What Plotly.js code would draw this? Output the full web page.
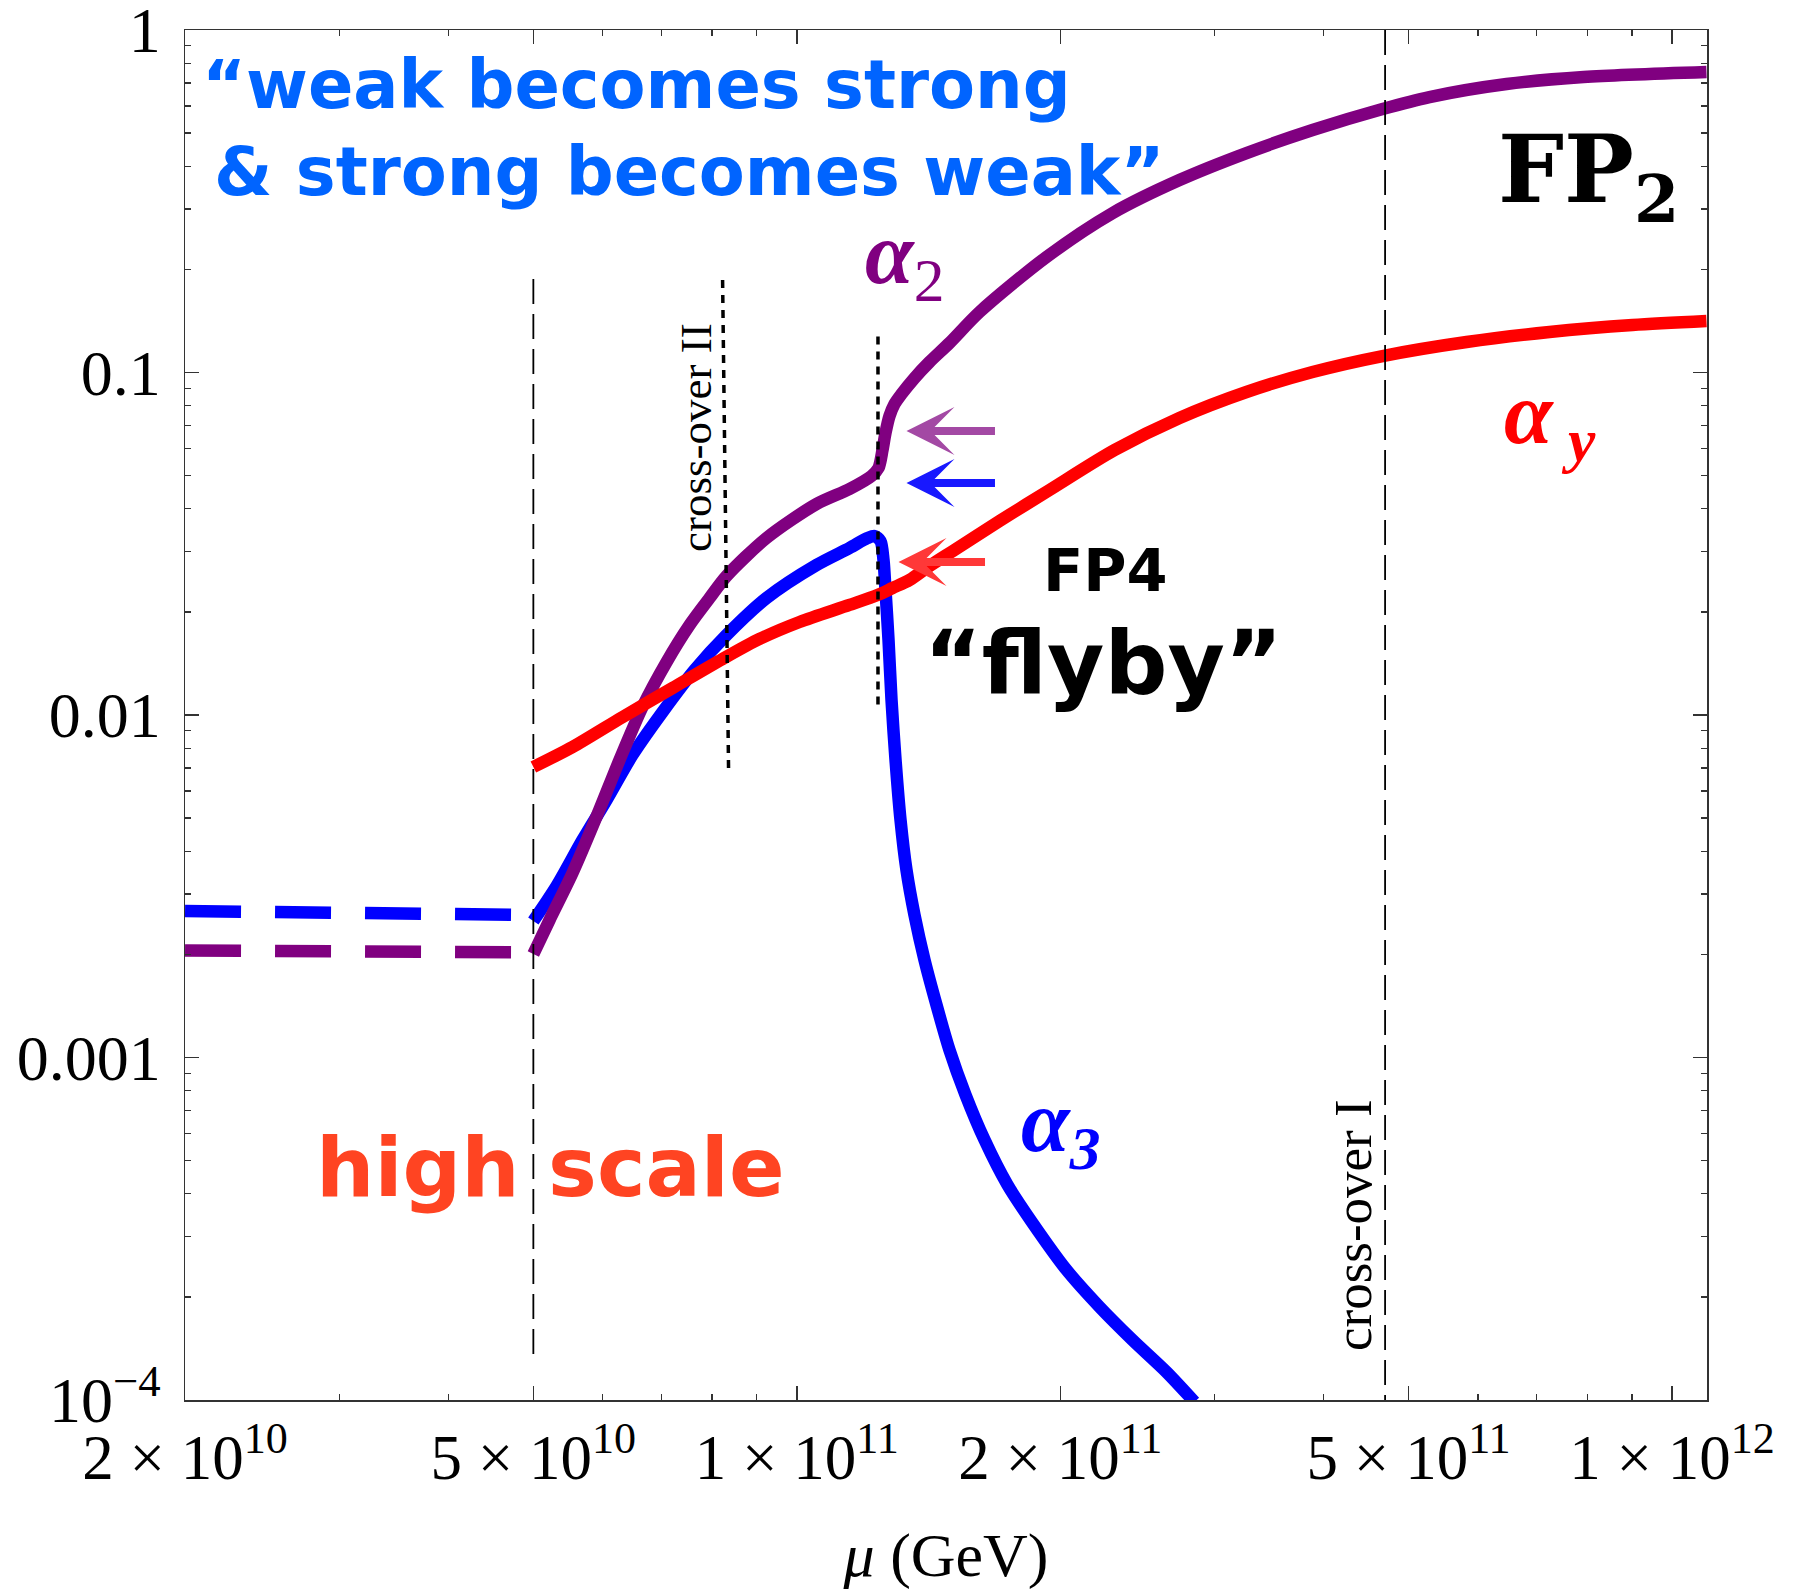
<!DOCTYPE html>
<html>
<head>
<meta charset="utf-8">
<script src="https://cdn.plot.ly/plotly-3.0.1.min.js"></script>
<style>html,body{margin:0;padding:0;background:#fff;}</style>
</head>
<body>
<div id="chart" style="width:1802px;height:1590px;"></div>
<script>
// ---------------- data (μ in GeV, couplings α) ----------------
const alpha2Mu = [5.0e10, 5.218e10, 5.543e10, 5.903e10, 6.272e10, 6.662e10, 7.098e10, 7.542e10, 7.949e10, 8.312e10,
  9.234e10, 1.0532e11, 1.1486e11, 1.2171e11, 1.2397e11, 1.2528e11, 1.2627e11, 1.2761e11, 1.2930e11, 1.3171e11,
  1.3628e11, 1.4177e11, 1.4942e11, 1.6173e11, 1.9288e11, 2.2948e11, 2.7363e11, 3.2640e11, 3.8839e11, 4.6689e11,
  5.2823e11, 6.4701e11, 7.9238e11, 1.0947e12];
const alpha2Val = [0.002006, 0.002521, 0.003457, 0.005038, 0.007391, 0.010553, 0.014277, 0.018316, 0.021955, 0.02546,
  0.03287, 0.04131, 0.04569, 0.04987, 0.05262, 0.05937, 0.06658, 0.07464, 0.08093, 0.08656,
  0.09637, 0.10731, 0.12195, 0.15020, 0.21744, 0.29216, 0.36478, 0.43732, 0.51055, 0.58791,
  0.63728, 0.69568, 0.72919, 0.75410];

const alpha3Mu = [5.0e10, 5.315e10, 5.690e10, 6.061e10, 6.490e10, 7.024e10, 7.641e10, 8.312e10, 9.234e10, 1.0532e11,
  1.1486e11, 1.2044e11, 1.2267e11, 1.2462e11, 1.2561e11, 1.2627e11, 1.2728e11, 1.2829e11, 1.2965e11, 1.3136e11,
  1.3344e11, 1.3628e11, 1.3992e11, 1.4441e11, 1.4942e11, 1.5588e11, 1.6387e11, 1.7407e11, 1.8590e11, 2.0330e11,
  2.2177e11, 2.4183e11, 2.6442e11, 2.8466e11];
const alpha3Val = [0.002504, 0.0031677, 0.0043162, 0.005645, 0.007643, 0.010204, 0.013531, 0.017124, 0.021955, 0.027415,
  0.030734, 0.03287, 0.033314, 0.032213, 0.028353, 0.023171, 0.016557, 0.011062, 0.007391, 0.004938,
  0.003527, 0.0026064, 0.0019260, 0.0014230, 0.0010517, 0.0007773, 0.00057428, 0.00042443, 0.0003287, 0.00023969,
  0.00018688, 0.00014965, 0.00012071, 0.00009866];

const alphaYMu = [5.0e10, 5.543e10, 6.322e10, 7.211e10, 8.225e10, 9.066e10, 1.0072e11, 1.1486e11, 1.2364e11, 1.2862e11,
  1.3450e11, 1.4177e11, 1.5140e11, 1.7045e11, 1.9441e11, 2.3069e11, 2.7363e11, 3.2640e11, 3.8839e11, 4.6689e11,
  5.8238e11, 7.2438e11, 9.0114e11, 1.0947e12];
const alphaYVal = [0.007050, 0.008066, 0.009866, 0.011990, 0.014569, 0.016670, 0.018688, 0.020956, 0.022406, 0.023485,
  0.024783, 0.027231, 0.030323, 0.036852, 0.045390, 0.05937, 0.07366, 0.08773, 0.10034, 0.11172,
  0.12278, 0.13127, 0.13759, 0.14134];

// high-scale (constant) branch, dashed
const highScaleMu = [2e10, 5e10];
const highScaleAlpha3 = [0.002677, 0.002606];
const highScaleAlpha2 = [0.002053, 0.002026];

// vertical guide lines
const matchingMu = [5e10, 5e10];        const matchingAlpha = [0.1875, 1.29e-4];
const crossIIMu = [8.226e10, 8.357e10]; const crossIIAlpha = [0.1862, 0.00677];
const flybyMu = [1.238e11, 1.238e11];   const flybyAlpha = [0.1274, 0.01069];
const crossIMu = [4.70e11, 4.70e11];    const crossIAlpha = [1, 1e-4];

// arrow tips [μ, α]
const arrowTip2 = [1.3344e11, 0.06748];
const arrowTip3 = [1.3344e11, 0.04757];
const arrowTipY = [1.3067e11, 0.02797];

// ticks
const xTickVals = [2e10, 5e10, 1e11, 2e11, 5e11, 1e12];
const xTickText = ['2 × 10<sup>10</sup>', '5 × 10<sup>10</sup>', '1 × 10<sup>11</sup>',
                   '2 × 10<sup>11</sup>', '5 × 10<sup>11</sup>', '1 × 10<sup>12</sup>'];
const xMinorVals = [3e10, 4e10, 6e10, 7e10, 8e10, 9e10, 3e11, 4e11, 6e11, 7e11, 8e11, 9e11];
const yTickVals = [1e-4, 1e-3, 1e-2, 1e-1, 1];
const yTickText = ['10<sup>−4</sup>', '0.001', '0.01', '0.1', '1'];
const yMinorVals = [];
[1e-4, 1e-3, 1e-2, 1e-1].forEach(d => { for (let k = 2; k <= 9; k++) yMinorVals.push(k * d); });

// ---------------- styling ----------------
const PURPLE = '#800080', BLUE = '#0000ff', RED = '#ff0000';
const LW = 12.5;
const SERIF = 'Liberation Serif, Times New Roman, serif';
const SANS = 'DejaVu Sans, sans-serif';

// plot area in px: left 185, right 1707, top 30, bottom 1400
const L = 185, R = 1707, T = 30, B = 1400;
function px(xp) { return (xp - L) / (R - L); }
function py(yp) { return (B - yp) / (B - T); }

const curveLine = (c) => ({color: c, width: LW, shape: 'spline', smoothing: 0.8});
const traces = [
  {x: highScaleMu, y: highScaleAlpha3, mode: 'lines', line: {color: BLUE, width: LW, dash: '56px,34px'}, name: 'α3 high scale'},
  {x: highScaleMu, y: highScaleAlpha2, mode: 'lines', line: {color: PURPLE, width: LW, dash: '56px,34px'}, name: 'α2 high scale'},
  {x: alpha3Mu, y: alpha3Val, mode: 'lines', line: curveLine(BLUE), name: 'α3'},
  {x: alpha2Mu, y: alpha2Val, mode: 'lines', line: curveLine(PURPLE), name: 'α2'},
  {x: alphaYMu, y: alphaYVal, mode: 'lines', line: curveLine(RED), name: 'αy'},
  {x: matchingMu, y: matchingAlpha, mode: 'lines', line: {color: '#000', width: 1.8, dash: '25px,10px'}},
  {x: crossIMu, y: crossIAlpha, mode: 'lines', line: {color: '#000', width: 1.8, dash: '25px,10px'}},
  {x: crossIIMu, y: crossIIAlpha, mode: 'lines', line: {color: '#000', width: 3.5, dash: '8px,7px'}},
  {x: flybyMu, y: flybyAlpha, mode: 'lines', line: {color: '#000', width: 3.5, dash: '8px,7px'}}
];

function arrow(tip, color, ax) {
  return {x: Math.log10(tip[0]), y: Math.log10(tip[1]), xref: 'x', yref: 'y', ax: ax, ay: 0,
          text: '', showarrow: true, arrowhead: 3, arrowwidth: 8, arrowsize: 1.0, arrowcolor: color, standoff: 0};
}
function label(text, xp, yp, font, xanchor, yanchor, extra) {
  return Object.assign({text: text, x: px(xp), y: py(yp), xref: 'paper', yref: 'paper',
    xanchor: xanchor, yanchor: yanchor, showarrow: false, font: font, borderpad: 0}, extra || {});
}

const annotations = [
  arrow(arrowTip2, '#a349a4', 90),
  arrow(arrowTip3, '#1818ff', 90),
  arrow(arrowTipY, '#ff3838', 88),
  label('“weak becomes strong', 201, 45, {family: SANS, size: 67, color: '#0064ff', weight: 700}, 'left', 'top'),
  label('& strong becomes weak”', 213, 132, {family: SANS, size: 67, color: '#0064ff', weight: 700}, 'left', 'top'),
  label('FP<sub>2</sub>', 1497, 114, {family: 'DejaVu Serif, serif', size: 93, color: '#000', weight: 700}, 'left', 'top'),
  label('<i>α</i><sub><span style="font-weight:normal">2</span></sub>', 864, 204, {family: SERIF, size: 88, color: PURPLE, weight: 700}, 'left', 'top'),
  label('<i>α</i><sub> <i>y</i></sub>', 1503, 364, {family: SERIF, size: 88, color: RED, weight: 700}, 'left', 'top'),
  label('<i>α</i><sub><i>3</i></sub>', 1020, 1072, {family: SERIF, size: 88, color: BLUE, weight: 700}, 'left', 'top'),
  label('FP4', 1105, 535, {family: SANS, size: 59, color: '#000', weight: 700}, 'center', 'top'),
  label('“flyby”', 1103, 610, {family: SANS, size: 88, color: '#000', weight: 700}, 'center', 'top'),
  label('high scale', 550, 1119, {family: SANS, size: 82, color: '#ff4422', weight: 700}, 'center', 'top'),
  label('cross-over II', 696, 438, {family: SERIF, size: 45, color: '#000'}, 'center', 'middle', {textangle: -90}),
  label('cross-over I', 1353, 1225, {family: SERIF, size: 53, color: '#000'}, 'center', 'middle', {textangle: -90})
];

const layout = {
  width: 1802, height: 1590,
  margin: {l: L, r: 1802 - R, t: T, b: 1590 - B, pad: 0},
  paper_bgcolor: '#fff', plot_bgcolor: '#fff',
  showlegend: false,
  xaxis: {
    type: 'log', range: [Math.log10(2e10) - 0.00005, Math.log10(1.0962e12)],
    tickmode: 'array', tickvals: xTickVals, ticktext: xTickText,
    ticks: 'inside', ticklen: 14, tickwidth: 1.5, tickcolor: '#333',
    minor: {tickmode: 'array', tickvals: xMinorVals, ticks: 'inside', ticklen: 6, tickwidth: 1.3, tickcolor: '#333', showgrid: false},
    showline: true, linecolor: '#333', linewidth: 1.5, mirror: 'allticks',
    showgrid: false, zeroline: false, automargin: false,
    tickfont: {family: SERIF, size: 63, color: '#000'},
    ticklabelstandoff: 2, ticklabeloverflow: 'allow',
    title: {text: '<i>μ</i> (GeV)', font: {family: SERIF, size: 62, color: '#000'}, standoff: 40}
  },
  yaxis: {
    type: 'log', range: [-4.0001, 0.0001],
    tickmode: 'array', tickvals: yTickVals, ticktext: yTickText,
    ticks: 'inside', ticklen: 14, tickwidth: 1.5, tickcolor: '#333',
    minor: {tickmode: 'array', tickvals: yMinorVals, ticks: 'inside', ticklen: 6, tickwidth: 1.3, tickcolor: '#333', showgrid: false},
    showline: true, linecolor: '#333', linewidth: 1.5, mirror: 'allticks',
    showgrid: false, zeroline: false, automargin: false,
    tickfont: {family: SERIF, size: 64, color: '#000'},
    ticklabelstandoff: 10, ticklabeloverflow: 'allow'
  },
  annotations: annotations
};

Plotly.newPlot('chart', traces, layout, {staticPlot: true, displayModeBar: false});
</script>
</body>
</html>
